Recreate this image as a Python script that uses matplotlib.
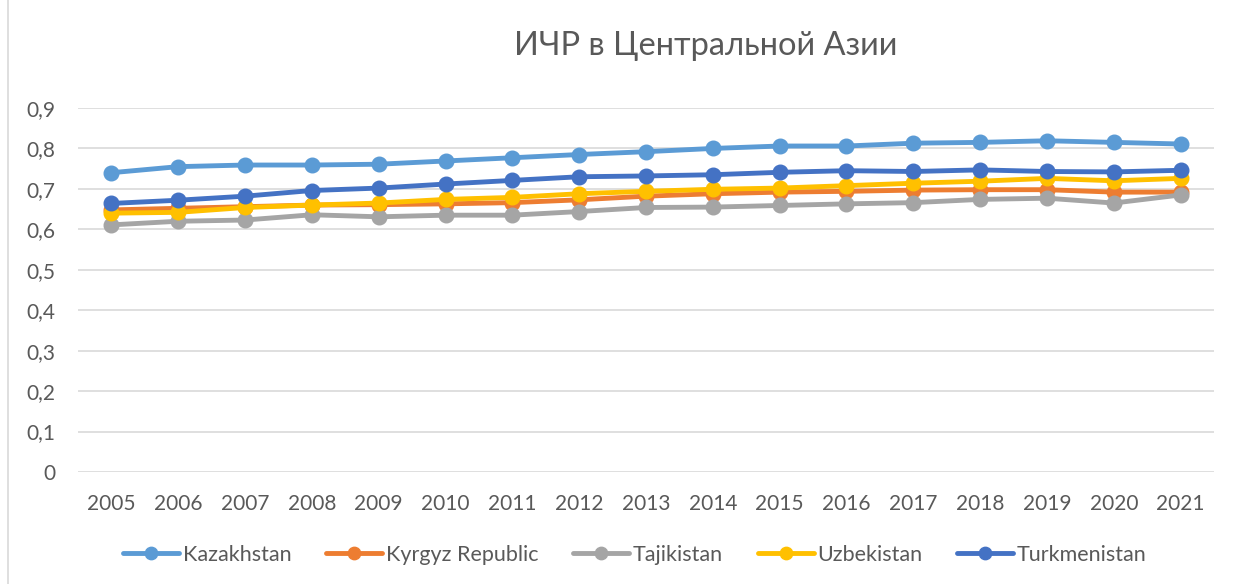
import matplotlib
matplotlib.use("Agg")
import matplotlib.pyplot as plt
from matplotlib.lines import Line2D
from matplotlib.ticker import FuncFormatter

plt.rcParams["font.family"] = ["Lato", "DejaVu Sans"]

years = [str(y) for y in range(2005, 2022)]
kazakhstan = [0.740, 0.755, 0.759, 0.759, 0.761, 0.769, 0.777, 0.785, 0.792,
              0.800, 0.806, 0.806, 0.813, 0.815, 0.819, 0.815, 0.811]
kyrgyz = [0.648, 0.652, 0.656, 0.660, 0.661, 0.663, 0.666, 0.673, 0.682,
          0.688, 0.692, 0.694, 0.697, 0.698, 0.698, 0.692, 0.692]
tajikistan = [0.611, 0.620, 0.623, 0.636, 0.631, 0.635, 0.635, 0.644, 0.654,
              0.655, 0.659, 0.663, 0.666, 0.674, 0.677, 0.665, 0.685]
uzbekistan = [0.640, 0.642, 0.654, 0.660, 0.665, 0.674, 0.679, 0.688, 0.694,
              0.699, 0.702, 0.708, 0.714, 0.719, 0.726, 0.720, 0.726]
turkmenistan = [0.664, 0.672, 0.682, 0.696, 0.702, 0.712, 0.721, 0.730, 0.732,
                0.735, 0.741, 0.745, 0.743, 0.747, 0.743, 0.742, 0.746]

series = [
    ("Kazakhstan", kazakhstan, "#5B9BD5"),
    ("Kyrgyz Republic", kyrgyz, "#ED7D31"),
    ("Tajikistan", tajikistan, "#A5A5A5"),
    ("Uzbekistan", uzbekistan, "#FFC000"),
    ("Turkmenistan", turkmenistan, "#4472C4"),
]

TXT = "#595959"

fig = plt.figure(figsize=(12.43, 5.84), dpi=100)
ax = fig.add_axes([78 / 1243, 1 - 472 / 584, (1214 - 78) / 1243, (472 - 108) / 584])

x = list(range(len(years)))
for name, vals, col in series:
    ax.plot(x, vals, color=col, lw=3.5, marker="o", ms=10.5, label=name,
            solid_capstyle="round")

ax.set_xlim(-0.5, len(years) - 0.5)
ax.set_ylim(0, 0.9)
ax.set_yticks([i / 10 for i in range(10)])
ax.yaxis.set_major_formatter(FuncFormatter(lambda v, p: "0" if v == 0 else f"{v:.1f}".replace(".", ",")))
ax.set_xticks(x)
ax.set_xticklabels(years)
ax.grid(axis="y", color="#D9D9D9", lw=1.2)
ax.set_axisbelow(True)
for s in ax.spines.values():
    s.set_visible(False)
ax.tick_params(length=0, labelsize=15, colors=TXT)
ax.tick_params(axis="x", pad=16)
ax.tick_params(axis="y", pad=16.5)

fig.text(706 / 1243, 1 - 46 / 584, "ИЧР в Центральной Азии", ha="center", va="center",
         fontsize=23.5, color=TXT)

leg = ax.legend(loc="center", bbox_to_anchor=(635 / 1243, 1 - 555 / 584),
                bbox_transform=fig.transFigure, ncol=5, frameon=False,
                fontsize=15.5, handlelength=2.6, handletextpad=0.18, columnspacing=1.6,
                markerscale=0.85)
for t in leg.get_texts():
    t.set_color(TXT)

# рамка области диаграммы слева
fig.add_artist(Line2D([8 / 1243, 8 / 1243], [0, 1], transform=fig.transFigure,
                      color="#D9D9D9", lw=1.2))

fig.savefig("out.png", dpi=100)
